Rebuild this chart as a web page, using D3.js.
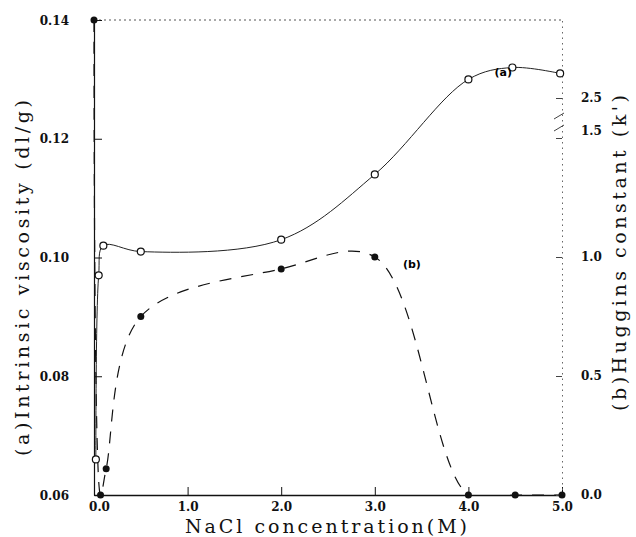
<!DOCTYPE html>
<html lang="en">
<head>
<meta charset="UTF-8">
<title>NaCl viscosity</title>
<script src="https://d3js.org/d3.v7.min.js"></script>
<style>
    html, body { margin: 0; background: #fff; }
    .tick text { font-family: "DejaVu Serif", serif; font-size: 12px; font-weight: bold; fill: #111; }
    .title { font-family: "DejaVu Serif", serif; font-size: 19px; fill: #111; }
</style>
</head>
<body>
<div id="vis"></div>
<script>
// (a) intrinsic viscosity, open circles
var conc_a = [0.02, 0.05, 0.1, 0.5, 2.0, 3.0, 4.0, 4.47, 4.98];
var visc_a = [0.066, 0.097, 0.102, 0.101, 0.103, 0.114, 0.130, 0.132, 0.131];
// (b) Huggins constant, filled dots (first one runs off the top of the axis)
var conc_b = [0.0, 0.07, 0.13, 0.5, 2.0, 3.0, 4.0, 4.5, 5.0];
var hug_b = [4.0, 0.0, 0.11, 0.75, 0.95, 1.0, 0.0, 0.0, 0.0];

var x_ticks = [0, 1, 2, 3, 4, 5];
var left_ticks = [0.06, 0.08, 0.10, 0.12, 0.14];
var right_ticks = [0.0, 0.5, 1.0, 1.5, 2.5];

var width = 636, height = 537;
var margin = {top: 20, right: 74, bottom: 42, left: 94};

var svg = d3.select('#vis')
    .append('svg')
    .attr('width', width)
    .attr('height', height);

var x_scale = d3.scaleLinear()
    .domain([0, 5])
    .range([margin.left, width - margin.right]);

var y_left = d3.scaleLinear()
    .domain([0.06, 0.14])
    .range([height - margin.bottom, margin.top]);

// broken right axis: 0..1.5 linear, then squeezed above the break
var y_right = d3.scaleLinear()
    .domain([0, 1.5, 2.5, 4.0])
    .range([height - margin.bottom, 138, 98, margin.top]);

var x0 = margin.left, x1 = width - margin.right;
var y0 = height - margin.bottom, y1 = margin.top;

svg.append('clipPath')
    .attr('id', 'plot')
    .append('rect')
    .attr('x', x0 - 1).attr('y', y1 - 4)
    .attr('width', x1 - x0 + 6).attr('height', y0 - y1 + 4);

// frame top, dotted
svg.append('line')
    .attr('x1', x0).attr('x2', x1).attr('y1', y1).attr('y2', y1)
    .attr('stroke', '#555').attr('stroke-width', 1)
    .attr('stroke-dasharray', '2,3');

// axes
var x_axis = d3.axisBottom(x_scale)
    .tickValues(x_ticks)
    .tickFormat(d3.format('.1f'))
    .tickSizeInner(-8)
    .tickSizeOuter(0)
    .tickPadding(7);

var left_axis = d3.axisLeft(y_left)
    .tickValues(left_ticks)
    .tickFormat(d3.format('.2f'))
    .tickSizeInner(-8)
    .tickSizeOuter(0)
    .tickPadding(25);

var right_axis = d3.axisRight(y_right)
    .tickValues(right_ticks)
    .tickFormat(d3.format('.1f'))
    .tickSizeInner(-6)
    .tickSizeOuter(0)
    .tickPadding(19);

// data
var data_a = conc_a.map(function(c, i) { return {x: c, y: visc_a[i]}; });
var data_b = conc_b.map(function(c, i) { return {x: c, y: hug_b[i]}; });

var line_a = d3.line()
    .x(function(d) { return x_scale(d.x); })
    .y(function(d) { return y_left(d.y); })
    .curve(d3.curveCatmullRom.alpha(0.5));

var line_b = d3.line()
    .x(function(d) { return x_scale(d.x); })
    .y(function(d) { return y_right(d.y); })
    .curve(d3.curveCatmullRom.alpha(0.5));

svg.append('path')
    .datum(data_b)
    .attr('d', line_b)
    .attr('clip-path', 'url(#plot)')
    .attr('fill', 'none')
    .attr('stroke', '#111')
    .attr('stroke-width', 1.2)
    .attr('stroke-dasharray', '12,10');

svg.append('path')
    .datum(data_a)
    .attr('d', line_a)
    .attr('fill', 'none')
    .attr('stroke', '#222')
    .attr('stroke-width', 1);

var gx = svg.append('g')
    .attr('transform', 'translate(0,' + y0 + ')')
    .call(x_axis);
gx.select('.domain').attr('stroke', '#111').attr('stroke-width', 1.3);
gx.selectAll('.tick line').attr('stroke', '#111');
gx.selectAll('.tick text').attr('dx', function(d) { return d === 0 ? 5 : 0; });

var gl = svg.append('g')
    .attr('transform', 'translate(' + x0 + ',0)')
    .call(left_axis);
gl.select('.domain').attr('stroke', '#111').attr('stroke-width', 1.2);
gl.selectAll('.tick line').attr('stroke', '#111');
gl.selectAll('.tick text').attr('dy', '0.35em');

var gr = svg.append('g')
    .attr('transform', 'translate(' + x1 + ',0)')
    .call(right_axis);
gr.select('.domain').attr('stroke', '#666').attr('stroke-dasharray', '1.5,4');
gr.selectAll('.tick line').attr('stroke', '#444');
gr.selectAll('.tick text')
    .attr('font-weight', function(d) { return d > 1.2 ? 'normal' : 'bold'; })
    .attr('dy', function(d) { return d === 1.5 ? '-0.3em' : '0.32em'; });

// break marks on the right axis
[1.75, 2.05].forEach(function(v) {
    svg.append('line')
        .attr('x1', x1 - 8).attr('x2', x1 + 2)
        .attr('y1', y_right(v) + 3).attr('y2', y_right(v) - 3)
        .attr('stroke', '#444').attr('stroke-width', 1);
});

svg.selectAll('.pt_a')
    .data(data_a)
    .enter()
    .append('circle')
    .attr('class', 'pt_a')
    .attr('cx', function(d) { return x_scale(d.x); })
    .attr('cy', function(d) { return y_left(d.y); })
    .attr('r', 3.5)
    .attr('fill', '#fff')
    .attr('stroke', '#111')
    .attr('stroke-width', 1.2);

svg.selectAll('.pt_b')
    .data(data_b)
    .enter()
    .append('circle')
    .attr('class', 'pt_b')
    .attr('cx', function(d) { return x_scale(d.x); })
    .attr('cy', function(d) { return y_right(d.y); })
    .attr('r', 3.5)
    .attr('fill', '#111');

// curve labels
svg.append('text')
    .attr('x', x_scale(4.28)).attr('y', y_left(0.1305))
    .attr('font-family', 'DejaVu Sans').attr('font-size', 11).attr('font-weight', 'bold')
    .text('(a)');
svg.append('text')
    .attr('x', x_scale(3.3)).attr('y', y_right(0.955))
    .attr('font-family', 'DejaVu Sans').attr('font-size', 11).attr('font-weight', 'bold')
    .text('(b)');

// axis titles
svg.append('text')
    .attr('class', 'title')
    .attr('x', 326).attr('y', 533)
    .attr('text-anchor', 'middle')
    .attr('textLength', 282).attr('lengthAdjust', 'spacing')
    .text('NaCl concentration(M)');

svg.append('text')
    .attr('class', 'title')
    .attr('transform', 'translate(29,278) rotate(-90)')
    .attr('text-anchor', 'middle')
    .attr('textLength', 356).attr('lengthAdjust', 'spacing')
    .text('(a)Intrinsic viscosity (dl/g)');

svg.append('text')
    .attr('class', 'title')
    .attr('transform', 'translate(626,253) rotate(-90)')
    .attr('text-anchor', 'middle')
    .attr('textLength', 316).attr('lengthAdjust', 'spacing')
    .text("(b)Huggins constant (k')");
</script>
</body>
</html>
